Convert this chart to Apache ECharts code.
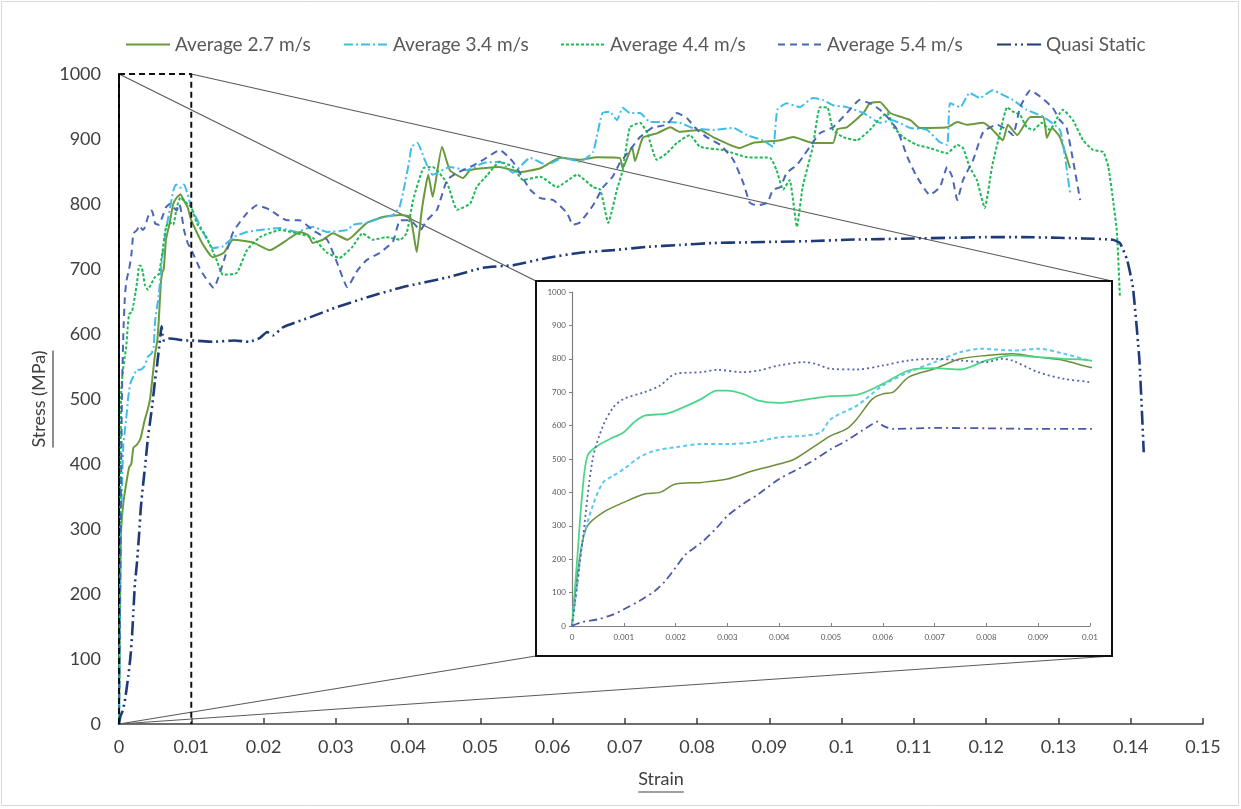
<!DOCTYPE html>
<html>
<head>
<meta charset="utf-8">
<script src="https://cdn.jsdelivr.net/npm/echarts@6/dist/echarts.min.js"></script>
<style>
html,body{margin:0;padding:0;background:#fff;}
#chart{width:1241px;height:809px;}
</style>
</head>
<body>
<div id="chart"></div>
<script>
// ---------------- DATA ----------------
var seriesNames = ['Average 2.7 m/s', 'Average 3.4 m/s', 'Average 4.4 m/s', 'Average 5.4 m/s', 'Quasi Static'];

var avg27 = [[0,0],[0.0001,150],[0.0002,250],[0.0003,300],[0.0006,340],[0.001,370],[0.0014,395],[0.0017,400],[0.002,425],[0.0025,430],[0.003,440],[0.0035,465],[0.004,485],[0.0043,500],[0.0047,540],[0.005,570],[0.0053,590],[0.0055,620],[0.0058,680],[0.006,695],[0.0062,700],[0.0065,745],[0.007,770],[0.0075,800],[0.008,810],[0.0085,815],[0.009,805],[0.0095,795],[0.01,775],
[0.0115,740],[0.013,718],[0.0145,725],[0.0158,745],[0.0185,741],[0.0209,729],[0.0233,745],[0.025,757],[0.0262,752],[0.0268,740],[0.0282,745],[0.0296,755],[0.0316,745],[0.0325,752],[0.0343,771],[0.0365,780],[0.0389,783],[0.0403,780],[0.0412,726],[0.0419,791],[0.0428,845],[0.0434,811],[0.0447,888],[0.0458,852],[0.0476,840],[0.0486,852],[0.0504,855],[0.0527,857],[0.0555,849],[0.0583,855],[0.061,871],[0.0638,868],[0.0661,872],[0.0693,871],[0.0697,855],[0.071,888],[0.0714,866],[0.0725,902],[0.0745,909],[0.0763,918],[0.0776,911],[0.0804,914],[0.0822,903],[0.0859,886],[0.0877,894],[0.0915,898],[0.0933,903],[0.096,894],[0.0988,894],[0.0994,915],[0.1007,918],[0.103,940],[0.1039,955],[0.1053,957],[0.1067,940],[0.1095,929],[0.1108,917],[0.1146,918],[0.116,926],[0.1173,922],[0.1196,925],[0.1209,914],[0.1223,898],[0.123,922],[0.1243,906],[0.1261,934],[0.1279,934],[0.1284,902],[0.1291,917],[0.1302,903],[0.1316,855]];

var avg34 = [[0,0],[0.0001,120],[0.0002,250],[0.0004,360],[0.0006,430],[0.0008,450],[0.001,470],[0.0013,505],[0.0016,525],[0.002,535],[0.0025,545],[0.003,545],[0.0035,550],[0.004,565],[0.0045,570],[0.0048,580],[0.005,620],[0.0055,660],[0.006,720],[0.0065,760],[0.007,790],[0.0075,820],[0.0079,830],[0.0085,825],[0.009,830],[0.0095,815],[0.01,795],
[0.0113,765],[0.013,732],[0.0144,735],[0.0158,749],[0.0177,757],[0.0195,760],[0.0223,763],[0.0246,757],[0.0268,765],[0.0288,757],[0.0316,760],[0.0324,768],[0.0343,771],[0.0361,778],[0.0379,783],[0.0388,795],[0.0393,817],[0.0402,868],[0.0405,888],[0.0413,894],[0.0423,868],[0.0434,845],[0.0458,857],[0.0481,852],[0.0504,863],[0.0527,865],[0.0545,848],[0.0569,871],[0.0592,860],[0.0614,871],[0.0638,865],[0.0656,880],[0.0661,903],[0.0669,940],[0.0679,942],[0.0689,929],[0.0697,948],[0.0707,940],[0.0721,940],[0.0735,926],[0.0758,926],[0.0776,925],[0.0794,917],[0.0822,914],[0.085,917],[0.0869,906],[0.0891,898],[0.0905,888],[0.0911,945],[0.0924,955],[0.0942,949],[0.096,963],[0.0974,960],[0.0988,952],[0.1007,949],[0.103,940],[0.1053,925],[0.107,929],[0.1095,917],[0.1118,914],[0.1136,895],[0.1146,891],[0.115,955],[0.1164,949],[0.1177,971],[0.1191,963],[0.1209,975],[0.1223,968],[0.1237,960],[0.1256,945],[0.1279,934],[0.1302,914],[0.1311,857],[0.1316,817]];

var avg44 = [[0,0],[0.0001,200],[0.0002,400],[0.0003,510],[0.0005,540],[0.0008,565],[0.001,580],[0.0012,610],[0.0014,630],[0.0018,635],[0.002,645],[0.0023,665],[0.0025,680],[0.0028,705],[0.003,705],[0.0033,695],[0.0036,675],[0.004,668],[0.0045,678],[0.005,688],[0.0055,692],[0.006,725],[0.0065,765],[0.007,772],[0.0075,768],[0.008,795],[0.0085,810],[0.009,805],[0.0095,800],[0.01,795],
[0.0108,770],[0.0121,749],[0.0135,714],[0.0144,691],[0.0163,694],[0.0177,729],[0.0195,749],[0.0223,760],[0.0246,755],[0.0268,748],[0.0288,725],[0.0305,717],[0.0323,734],[0.0337,755],[0.0351,745],[0.037,749],[0.0389,745],[0.0398,755],[0.0407,806],[0.0421,855],[0.0434,857],[0.0454,832],[0.0468,791],[0.0486,801],[0.0495,826],[0.051,845],[0.0527,865],[0.0545,857],[0.0559,837],[0.0583,842],[0.0606,826],[0.0634,845],[0.0656,826],[0.0666,822],[0.0677,771],[0.0689,822],[0.0697,852],[0.0707,918],[0.0721,925],[0.0731,909],[0.0744,868],[0.0758,878],[0.0772,894],[0.079,906],[0.0804,888],[0.0836,883],[0.0869,872],[0.0901,871],[0.091,852],[0.0919,822],[0.0928,837],[0.0938,765],[0.0946,826],[0.096,888],[0.097,949],[0.098,949],[0.0988,914],[0.1002,903],[0.1021,898],[0.1039,914],[0.1053,932],[0.1063,940],[0.1072,918],[0.1085,903],[0.1104,891],[0.1122,886],[0.1146,878],[0.116,891],[0.1168,886],[0.1177,857],[0.1187,837],[0.1198,794],[0.1208,857],[0.1219,909],[0.1229,949],[0.1237,942],[0.1247,937],[0.1256,918],[0.1265,914],[0.1277,925],[0.1288,914],[0.1302,940],[0.1306,945],[0.132,929],[0.1334,898],[0.1348,883],[0.1362,880],[0.1369,857],[0.1376,802],[0.1381,755],[0.1385,657]];

var avg54 = [[0,0],[0.0002,250],[0.0004,500],[0.0006,600],[0.0008,655],[0.001,680],[0.0014,700],[0.0017,720],[0.002,755],[0.0025,760],[0.0028,767],[0.0033,760],[0.0036,765],[0.004,780],[0.0045,790],[0.0047,785],[0.005,770],[0.0055,768],[0.006,780],[0.0065,795],[0.007,800],[0.0075,795],[0.008,790],[0.0083,800],[0.0085,795],[0.009,760],[0.0095,740],[0.01,730],
[0.0113,698],[0.0131,671],[0.0144,709],[0.0158,757],[0.0177,786],[0.0191,798],[0.0209,791],[0.0232,775],[0.025,775],[0.0268,760],[0.0288,745],[0.0302,709],[0.0316,672],[0.033,698],[0.0343,714],[0.0361,725],[0.0379,742],[0.0389,775],[0.0403,775],[0.0417,760],[0.0426,775],[0.044,791],[0.0454,837],[0.0468,848],[0.0486,857],[0.0504,868],[0.0527,883],[0.0545,865],[0.0569,822],[0.0583,809],[0.0601,806],[0.062,786],[0.0628,768],[0.0638,772],[0.0656,798],[0.067,826],[0.0683,842],[0.0693,863],[0.0707,883],[0.0721,903],[0.0739,918],[0.0758,922],[0.0772,940],[0.0786,932],[0.08,914],[0.0813,903],[0.0832,891],[0.085,868],[0.0864,832],[0.0873,802],[0.0883,798],[0.0897,802],[0.0905,822],[0.0915,826],[0.0924,848],[0.0938,860],[0.0946,872],[0.0956,888],[0.097,909],[0.0988,918],[0.1007,940],[0.1025,960],[0.1039,955],[0.1053,945],[0.1063,934],[0.1077,914],[0.1091,872],[0.1104,842],[0.1122,814],[0.1136,826],[0.1146,857],[0.1153,842],[0.116,806],[0.1168,837],[0.1182,868],[0.1196,911],[0.1215,922],[0.1229,914],[0.1237,906],[0.1247,949],[0.1261,975],[0.1275,965],[0.1292,948],[0.1302,929],[0.1311,918],[0.132,868],[0.133,806]];

var quasiStatic = [[0,0],[0.0002,12],[0.0005,20],[0.0008,35],[0.001,50],[0.0013,75],[0.0016,105],[0.0018,135],[0.002,175],[0.0022,215],[0.0025,250],[0.0028,295],[0.003,330],[0.0033,365],[0.0036,395],[0.004,440],[0.0043,465],[0.0046,490],[0.005,530],[0.0053,555],[0.0056,585],[0.0058,605],[0.0059,612],[0.006,600],[0.0062,590],[0.007,593],[0.008,592],[0.009,590],[0.01,590],
[0.013,588],[0.016,590],[0.018,588],[0.0195,594],[0.0205,603],[0.0213,598],[0.0228,611],[0.0265,626],[0.0303,642],[0.0345,657],[0.0392,672],[0.0458,688],[0.0504,702],[0.0546,706],[0.0592,717],[0.0638,725],[0.0684,729],[0.073,734],[0.0776,737],[0.0822,740],[0.0869,741],[0.0915,742],[0.0961,743],[0.1007,745],[0.1053,746],[0.11,747],[0.115,748],[0.12,749],[0.125,749],[0.13,748],[0.1335,747],[0.1375,745],[0.1385,740],[0.1395,714],[0.1403,672],[0.1412,560],[0.1418,418]];

// zoomed region (strain, stress) shown in the inset
var zoomRegion = [[0,0],[0,1000],[0.01,1000],[0.01,0]];

// ---------------- STYLE ----------------
var FONT = 'Lato';
var colors = ['#6B9A3D', '#3EBDEB', '#1DB954', '#4A67B5', '#1F3A78'];
var mainLine = [
  {width:2, type:'solid'},
  {width:2, type:[9,3,2,3]},
  {width:2, type:[3,2]},
  {width:2, type:[7,5]},
  {width:2.6, type:[14,4,2,4,2,4]}
];
var insetColors = ['#6B8E3A', '#5CC8F0', '#4CD68A', '#5566AA', '#4A58A8'];
var insetLine = [
  {width:1.5, type:'solid'},
  {width:2, type:[4,3]},
  {width:1.8, type:'solid'},
  {width:1.8, type:[2,3]},
  {width:1.8, type:[8,4,2,4]}
];
var allData = [avg27, avg34, avg44, avg54, quasiStatic];

var MAIN = {left:119, top:74, right:38, bottom:85};
var INSET = {left:572, top:292, width:518, height:334};
var BOX = {left:536, top:281, right:1112, bottom:656};

function fmt(v){ return String(parseFloat(v.toFixed(4))); }
function fmtInt(v){ return String(Math.round(v)); }

var legendLefts = [120, 338, 555, 772, 991];
var legends = seriesNames.map(function(n, i){
  return {
    left: legendLefts[i], top: 30, itemWidth: 44, itemHeight: 14, itemGap: 0,
    itemStyle: {opacity: 0},
    textStyle: {fontFamily: FONT, fontSize: 19, color: '#595959'},
    data: [n]
  };
});

var series = [];
allData.forEach(function(d, i){
  series.push({
    name: seriesNames[i], type: 'line', data: d, xAxisIndex: 0, yAxisIndex: 0,
    symbol: 'none', showSymbol: false, zlevel: 0, z: 3, smooth: 0.15,
    lineStyle: {color: colors[i], width: mainLine[i].width, type: mainLine[i].type},
    itemStyle: {color: colors[i]}
  });
});
series.push({
  name: 'zoom', type: 'line', data: zoomRegion, xAxisIndex: 0, yAxisIndex: 0,
  symbol: 'none', zlevel: 0, z: 4, silent: true,
  lineStyle: {color: '#111', width: 2, type: [6,4]}
});
allData.forEach(function(d, i){
  series.push({
    name: seriesNames[i], type: 'line', data: d, xAxisIndex: 1, yAxisIndex: 1,
    symbol: 'none', showSymbol: false, zlevel: 2, z: 3, clip: true, smooth: 0.3,
    lineStyle: {color: insetColors[i], width: insetLine[i].width, type: insetLine[i].type}
  });
});

var option = {
  animation: false,
  backgroundColor: '#ffffff',
  legend: legends,
  grid: [
    {left: MAIN.left, top: MAIN.top, right: MAIN.right, bottom: MAIN.bottom, zlevel: 0},
    {left: INSET.left, top: INSET.top, width: INSET.width, height: INSET.height, zlevel: 2}
  ],
  xAxis: [
    {type:'value', gridIndex:0, min:0, max:0.15, interval:0.01, zlevel:0,
     name:'Strain', nameLocation:'middle', nameGap:46,
     nameTextStyle:{fontFamily:FONT, fontSize:18, color:'#404040'},
     axisLine:{lineStyle:{color:'#404040', width:1.5}},
     axisTick:{inside:true, length:6, lineStyle:{color:'#404040', width:1.5}},
     axisLabel:{fontFamily:FONT, fontSize:18, color:'#404040', margin:14, formatter: fmt},
     splitLine:{show:false}},
    {type:'value', gridIndex:1, min:0, max:0.01, interval:0.001, zlevel:2,
     axisLine:{lineStyle:{color:'#808080', width:1.2}},
     axisTick:{inside:true, length:3, lineStyle:{color:'#808080'}},
     axisLabel:{fontFamily:FONT, fontSize:8, color:'#595959', margin:7, formatter: fmt},
     splitLine:{show:false}}
  ],
  yAxis: [
    {type:'value', gridIndex:0, min:0, max:1000, interval:100, zlevel:0,
     name:'Stress (MPa)', nameLocation:'middle', nameGap:54,
     nameTextStyle:{fontFamily:FONT, fontSize:18, color:'#404040'},
     axisLine:{show:true, lineStyle:{color:'#000', width:2}},
     axisTick:{show:false},
     axisLabel:{fontFamily:FONT, fontSize:18, color:'#404040', margin:18, formatter: fmtInt},
     splitLine:{show:false}},
    {type:'value', gridIndex:1, min:0, max:1000, interval:100, zlevel:2,
     axisLine:{show:true, lineStyle:{color:'#808080', width:1.2}},
     axisTick:{show:true, length:3, lineStyle:{color:'#808080'}},
     axisLabel:{fontFamily:FONT, fontSize:8, color:'#595959', margin:6, formatter: fmtInt},
     splitLine:{show:false}}
  ],
  series: series
};

var chart = echarts.init(document.getElementById('chart'), null, {renderer:'canvas'});
chart.setOption(option);

// connector lines and decorations
function px(p){ return chart.convertToPixel({xAxisIndex:0, yAxisIndex:0}, p); }
var tl = px([0,1000]), tr = px([0.01,1000]), bl = px([0,0]);

var ctx = document.createElement('canvas').getContext('2d');
ctx.font = '18px ' + FONT;
var wStrain = ctx.measureText('Strain').width;
var wStress = ctx.measureText('Stress (MPa)').width;
var xMid = (MAIN.left + (1241 - MAIN.right)) / 2;
var yMid = (MAIN.top + (809 - MAIN.bottom)) / 2;
var lineC = '#5a5a5a';

chart.setOption({
  graphic: [
    {type:'rect', zlevel:0, z:0, silent:true, shape:{x:1.5, y:1.5, width:1237, height:804},
     style:{fill:null, stroke:'#D9D9D9', lineWidth:1}},
    {type:'line', zlevel:0, z:1, silent:true, shape:{x1:tl[0], y1:tl[1], x2:BOX.left, y2:BOX.top}, style:{stroke:lineC, lineWidth:1.2}},
    {type:'line', zlevel:0, z:1, silent:true, shape:{x1:tr[0], y1:tr[1], x2:BOX.right, y2:BOX.top}, style:{stroke:lineC, lineWidth:1.2}},
    {type:'line', zlevel:0, z:1, silent:true, shape:{x1:bl[0], y1:bl[1], x2:BOX.left, y2:BOX.bottom}, style:{stroke:lineC, lineWidth:1.2}},
    {type:'line', zlevel:0, z:1, silent:true, shape:{x1:bl[0], y1:bl[1], x2:BOX.right, y2:BOX.bottom}, style:{stroke:lineC, lineWidth:1.2}},
    {type:'rect', zlevel:1, z:0, silent:true,
     shape:{x:BOX.left, y:BOX.top, width:BOX.right-BOX.left, height:BOX.bottom-BOX.top},
     style:{fill:'#ffffff', stroke:'#111111', lineWidth:2}},
    {type:'line', zlevel:0, z:5, silent:true,
     shape:{x1:xMid - wStrain/2, y1:792, x2:xMid + wStrain/2, y2:792}, style:{stroke:'#404040', lineWidth:1.2}},
    {type:'line', zlevel:0, z:5, silent:true,
     shape:{x1:53, y1:yMid - wStress/2, x2:53, y2:yMid + wStress/2}, style:{stroke:'#404040', lineWidth:1.2}}
  ]
});
</script>
</body>
</html>
